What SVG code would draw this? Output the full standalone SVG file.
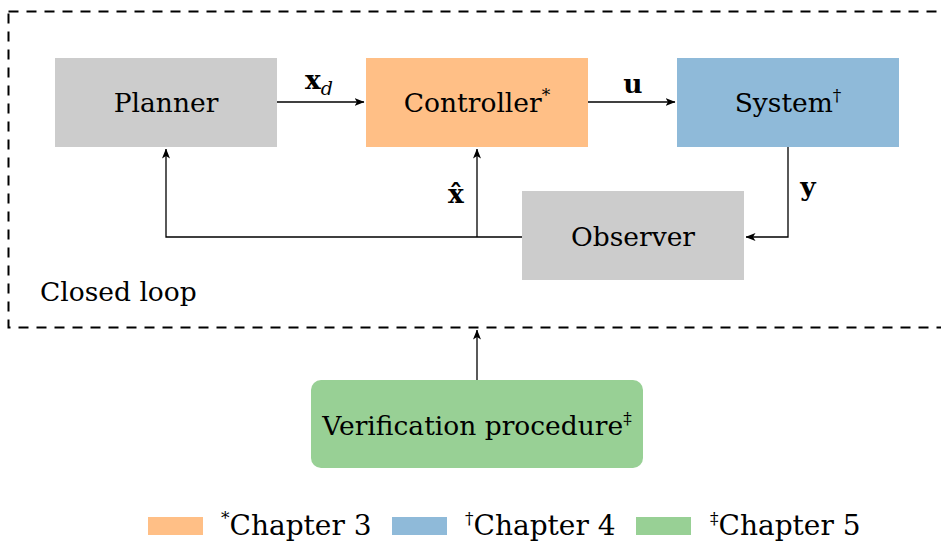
<svg xmlns="http://www.w3.org/2000/svg" width="941" height="544" viewBox="0 0 941 544">
<style>
.t{font-family:'DejaVu Serif',serif;fill:#000;font-size:26.5px}
.lg{font-size:28px}
.lbl{text-anchor:middle}
.edge{fill:none;stroke:#000;stroke-width:1.3}
.sup{font-size:17px}
.gray{fill:#cccccc}
</style>
<defs>
<marker id="ah" viewBox="0 0 10 8" refX="9.5" refY="4" markerWidth="10" markerHeight="8" markerUnits="userSpaceOnUse" orient="auto">
<path d="M0,0 L10,4 L0,8 L2.5,4 Z" fill="#000"/>
</marker>
</defs>
<rect x="8.5" y="11.5" width="950" height="316" fill="none" stroke="#000" stroke-width="2" stroke-dasharray="10,8"/>
<text class="t" x="40" y="301" font-size="27">Closed loop</text>
<g id="connectors">
<path class="edge" d="M277,102 H364" marker-end="url(#ah)"/>
<path class="edge" d="M588,102 H675" marker-end="url(#ah)"/>
<path class="edge" d="M788,147 V237 H746" marker-end="url(#ah)"/>
<path class="edge" d="M522,237 H166 V149" marker-end="url(#ah)"/>
<path class="edge" d="M477,237 V149" marker-end="url(#ah)"/>
<path class="edge" d="M477,380 V330" marker-end="url(#ah)"/>
<text class="t" x="305" y="89" font-weight="bold">x<tspan font-weight="normal" font-style="italic" font-size="19" dy="6">d</tspan></text>
<text class="t lbl" x="633" y="93" font-weight="bold">u</text>
<text class="t lbl" x="808" y="196" font-weight="bold">y</text>
<text class="t lbl" x="456" y="203" font-weight="bold">x̂</text>
</g>
<g id="planner">
<rect x="55" y="58" width="222" height="89" class="gray"/>
<text class="t lbl" x="166" y="112">Planner</text>
</g>
<g id="controller">
<rect x="366" y="58" width="222" height="89" fill="#ffbf86"/>
<text class="t lbl" x="477" y="112">Controller<tspan class="sup" dy="-11">*</tspan></text>
</g>
<g id="system">
<rect x="677" y="58" width="222" height="89" fill="#8fbad9"/>
<text class="t lbl" x="788" y="112">System<tspan class="sup" dy="-11">†</tspan></text>
</g>
<g id="observer">
<rect x="522" y="191" width="222" height="89" class="gray"/>
<text class="t lbl" x="633" y="246">Observer</text>
</g>
<g id="verification">
<rect x="311" y="380" width="332" height="88" rx="10" fill="#98d095"/>
<text class="t lbl" x="477" y="435">Verification procedure<tspan class="sup" dy="-11">‡</tspan></text>
</g>
<g id="legend">
<rect x="148" y="517" width="55" height="18" fill="#ffbf86"/>
<text class="t lg" x="221" y="535"><tspan class="sup" dy="-11">*</tspan><tspan dy="11">Chapter 3</tspan></text>
<rect x="392" y="517" width="55" height="18" fill="#8fbad9"/>
<text class="t lg" x="465" y="535"><tspan class="sup" dy="-11">†</tspan><tspan dy="11">Chapter 4</tspan></text>
<rect x="636" y="517" width="55" height="18" fill="#98d095"/>
<text class="t lg" x="710" y="535"><tspan class="sup" dy="-11">‡</tspan><tspan dy="11">Chapter 5</tspan></text>
</g>
</svg>
